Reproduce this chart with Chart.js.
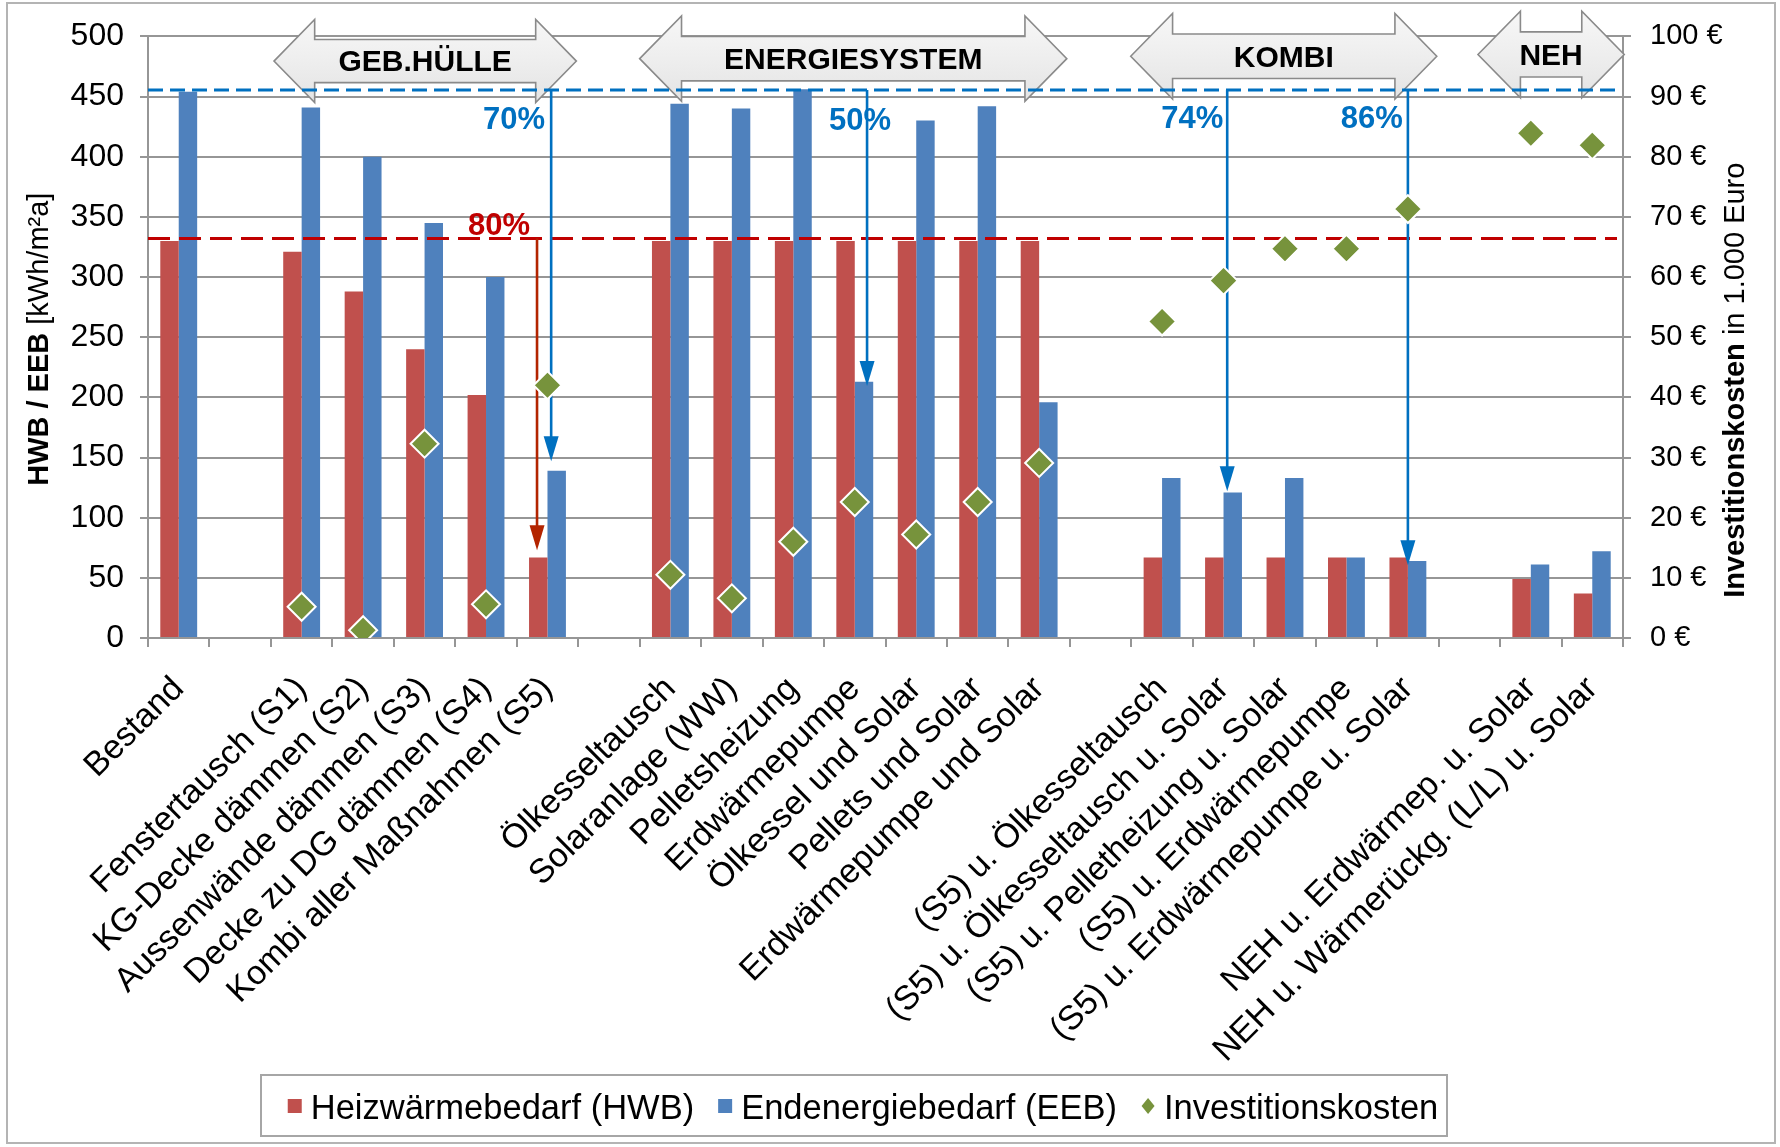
<!DOCTYPE html>
<html lang="de">
<head>
<meta charset="utf-8">
<title>HWB / EEB / Investitionskosten</title>
<script src="https://cdn.jsdelivr.net/npm/chart.js@4.4.1/dist/chart.umd.min.js"></script>
<style>
html,body{margin:0;padding:0;background:#ffffff;}
#wrap{width:1780px;height:1147px;}
canvas{display:block;}
</style>
</head>
<body>
<div id="wrap"><canvas id="chart" width="1780" height="1147"></canvas></div>
<script>
// ---------------- DATA ----------------
const categories = [
  'Bestand', '',
  'Fenstertausch (S1)', 'KG-Decke dämmen (S2)', 'Aussenwände dämmen (S3)', 'Decke zu DG dämmen (S4)', 'Kombi aller Maßnahmen (S5)', '',
  'Ölkesseltausch', 'Solaranlage (WW)', 'Pelletsheizung', 'Erdwärmepumpe', 'Ölkessel und Solar', 'Pellets und Solar', 'Erdwärmepumpe und Solar', '',
  '(S5) u. Ölkesseltausch', '(S5) u. Ölkesseltausch u. Solar', '(S5) u. Pelletheizung u. Solar', '(S5) u. Erdwärmepumpe', '(S5) u. Erdwärmepumpe u. Solar', '',
  'NEH u. Erdwärmep. u. Solar', 'NEH u. Wärmerückg. (L/L) u. Solar'
];
const hwbValues    = [330, null, 321, 288, 240, 202, 67, null, 330, 330, 330, 330, 330, 330, 330, null, 67, 67, 67, 67, 67, null, 49, 37];
const eebValues    = [454, null, 441, 400, 345, 300, 139, null, 444, 440, 456, 213, 430, 442, 196, null, 133, 121, 133, 67, 64, null, 61, 72];
const investValues = [null, null, 5.2, 1.3, 32.3, 5.6, 42, null, 10.5, 6.6, 16, 22.6, 17.2, 22.6, 29.1, null, 52.6, 59.4, 64.7, 64.7, 71.3, null, 83.9, 81.9];

const seriesLabels = ['Heizwärmebedarf (HWB)', 'Endenergiebedarf (EEB)', 'Investitionskosten'];
const leftTickValues  = [0, 50, 100, 150, 200, 250, 300, 350, 400, 450, 500];
const rightTickValues = [0, 10, 20, 30, 40, 50, 60, 70, 80, 90, 100];
const rightTickLabels = ['0 €', '10 €', '20 €', '30 €', '40 €', '50 €', '60 €', '70 €', '80 €', '90 €', '100 €'];
const leftTitle  = [{t: 'HWB / EEB ', bold: true}, {t: '[kWh/m²a]', bold: false}];
const rightTitle = [{t: 'Investitionskosten', bold: true}, {t: ' in 1.000 Euro', bold: false}];

// group banners (category-index span, left-axis values)
const groupNames  = ['GEB.HÜLLE', 'ENERGIESYSTEM', 'KOMBI', 'NEH'];
const groupFrom   = [1.55, 7.50, 15.49, 21.14];
const groupTo     = [6.47, 14.45, 20.47, 23.52];
const groupTop    = [514, 517, 519, 521];
const groupBottom = [445, 446, 448, 449];

// reference lines (left-axis values)
const refLineValues = [455.5, 332];

// reduction arrows
const arrowCats   = [6, 6, 11, 17, 20];
const arrowShift  = [-0.17, 0.06, 0.20, 0.06, 0.0];
const arrowFrom   = [332, 455.5, 455.5, 455.5, 455.5];
const arrowTo     = [73, 147, 209.5, 122, 60.5];
const arrowLabels = ['80%', '70%', '50%', '74%', '86%'];
const arrowLabelValues = [343, 431, 430, 431.5, 431.5];

// ---------------- STYLE ----------------
const FONT = "'Liberation Sans', Arial, sans-serif";
const GRID = '#969696';
const C_HWB = '#C0504D', C_EEB = '#4F81BD', C_INV = '#77933C';
const C_BLUE = '#0070C0', C_RED = '#C00000', C_REDARROW = '#B32400';
const refLineStyles = [{color: C_BLUE, dash: [15, 7]}, {color: C_RED, dash: [22, 9]}];
const arrowStyles = [
  {color: C_REDARROW, text: C_RED, align: 'right', dx: -7},
  {color: C_BLUE, text: C_BLUE, align: 'right', dx: -6},
  {color: C_BLUE, text: C_BLUE, align: 'center', dx: -7},
  {color: C_BLUE, text: C_BLUE, align: 'right', dx: -4},
  {color: C_BLUE, text: C_BLUE, align: 'right', dx: -5}
];

function drawGroups(chart) {
  const {ctx, scales: {x, y}} = chart;
  groupNames.forEach((name, i) => {
    const x1 = x.getPixelForValue(groupFrom[i]);
    const x2 = x.getPixelForValue(groupTo[i]);
    const top = y.getPixelForValue(groupTop[i]);
    const bot = y.getPixelForValue(groupBottom[i]);
    const h = bot - top, cy = (top + bot) / 2;
    const head = h * 0.49, sh = h * 0.26;
    ctx.beginPath();
    ctx.moveTo(x1, cy);
    ctx.lineTo(x1 + head, top);
    ctx.lineTo(x1 + head, cy - sh);
    ctx.lineTo(x2 - head, cy - sh);
    ctx.lineTo(x2 - head, top);
    ctx.lineTo(x2, cy);
    ctx.lineTo(x2 - head, bot);
    ctx.lineTo(x2 - head, cy + sh);
    ctx.lineTo(x1 + head, cy + sh);
    ctx.lineTo(x1 + head, bot);
    ctx.closePath();
    const g = ctx.createLinearGradient(0, top, 0, bot);
    g.addColorStop(0, '#F7F7F7');
    g.addColorStop(0.5, '#EEEEEE');
    g.addColorStop(1, '#E4E4E4');
    ctx.fillStyle = g;
    ctx.fill();
    ctx.strokeStyle = '#8A8A8A';
    ctx.lineWidth = 1.6;
    ctx.stroke();
    ctx.fillStyle = '#000';
    ctx.font = 'bold 30px ' + FONT;
    ctx.textAlign = 'center';
    ctx.textBaseline = 'middle';
    ctx.fillText(name, (x1 + x2) / 2, cy + 2);
  });
}

function drawRefLines(chart) {
  const {ctx, chartArea, scales: {y}} = chart;
  refLineValues.forEach((v, i) => {
    const py = y.getPixelForValue(v);
    ctx.save();
    ctx.strokeStyle = refLineStyles[i].color;
    ctx.lineWidth = 3;
    ctx.setLineDash(refLineStyles[i].dash);
    ctx.beginPath();
    ctx.moveTo(chartArea.left, py);
    ctx.lineTo(chartArea.right - 6, py);
    ctx.stroke();
    ctx.restore();
  });
}

function drawArrows(chart) {
  const {ctx, scales: {x, y}} = chart;
  arrowCats.forEach((c, i) => {
    const st = arrowStyles[i];
    const px = x.getPixelForValue(c + arrowShift[i]);
    const y1 = y.getPixelForValue(arrowFrom[i]);
    const y2 = y.getPixelForValue(arrowTo[i]);
    const headL = 25, headW = 7.5;
    ctx.strokeStyle = st.color;
    ctx.fillStyle = st.color;
    ctx.lineWidth = 2.6;
    ctx.beginPath();
    ctx.moveTo(px, y1);
    ctx.lineTo(px, y2 - headL + 2);
    ctx.stroke();
    ctx.beginPath();
    ctx.moveTo(px - headW, y2 - headL);
    ctx.lineTo(px + headW, y2 - headL);
    ctx.lineTo(px, y2);
    ctx.closePath();
    ctx.fill();
    ctx.font = 'bold 31px ' + FONT;
    ctx.fillStyle = st.text;
    ctx.textAlign = st.align;
    ctx.textBaseline = 'middle';
    ctx.fillText(arrowLabels[i], px + st.dx, y.getPixelForValue(arrowLabelValues[i]) + 1);
  });
}

function drawVerticalTitle(ctx, cx, cy, parts, size) {
  ctx.save();
  ctx.translate(cx, cy);
  ctx.rotate(-Math.PI / 2);
  let total = 0;
  const widths = parts.map(p => {
    ctx.font = (p.bold ? 'bold ' : '') + size + 'px ' + FONT;
    const w = ctx.measureText(p.t).width;
    total += w;
    return w;
  });
  let xx = -total / 2;
  ctx.fillStyle = '#000';
  ctx.textAlign = 'left';
  ctx.textBaseline = 'middle';
  parts.forEach((p, i) => {
    ctx.font = (p.bold ? 'bold ' : '') + size + 'px ' + FONT;
    ctx.fillText(p.t, xx, 0);
    xx += widths[i];
  });
  ctx.restore();
}

function drawLegend(chart) {
  const ctx = chart.ctx;
  const box = {left: 261, top: 1075, right: 1447, bottom: 1136};
  ctx.save();
  ctx.strokeStyle = '#A6A6A6';
  ctx.lineWidth = 2;
  ctx.strokeRect(box.left, box.top, box.right - box.left, box.bottom - box.top);
  ctx.font = '34.5px ' + FONT;
  const items = chart.data.datasets.map(ds => ({
    text: ds.label,
    color: ds.type === 'line' ? ds.pointBackgroundColor : ds.backgroundColor,
    diamond: ds.type === 'line'
  }));
  const marker = 14, gapM = 9, gapI = 24;
  let total = gapI * (items.length - 1);
  items.forEach(it => { it.w = ctx.measureText(it.text).width; total += marker + gapM + it.w; });
  let xp = (box.left + box.right) / 2 + 9 - total / 2;
  const cy = 1106;
  items.forEach(it => {
    ctx.fillStyle = it.color;
    if (it.diamond) {
      const mx = xp + marker / 2;
      ctx.beginPath();
      ctx.moveTo(mx, cy - 8);
      ctx.lineTo(mx + 6.5, cy);
      ctx.lineTo(mx, cy + 8);
      ctx.lineTo(mx - 6.5, cy);
      ctx.closePath();
      ctx.fill();
    } else {
      ctx.fillRect(xp, cy - 7, marker, marker);
    }
    xp += marker + gapM;
    ctx.fillStyle = '#000';
    ctx.textAlign = 'left';
    ctx.textBaseline = 'alphabetic';
    ctx.fillText(it.text, xp, 1119);
    xp += it.w + gapI;
  });
  ctx.restore();
}

const annotationPlugin = {
  id: 'annotations',
  beforeDatasetDraw(chart, args) {
    if (args.index !== 2) return;
    const ctx = chart.ctx;
    ctx.save();
    drawGroups(chart);
    drawRefLines(chart);
    drawArrows(chart);
    ctx.restore();
  },
  afterDraw(chart) {
    const ctx = chart.ctx;
    const ca = chart.chartArea;
    drawVerticalTitle(ctx, 40, (ca.top + ca.bottom) / 2 + 2, leftTitle, 29);
    drawVerticalTitle(ctx, 1736, (ca.top + ca.bottom) / 2 + 43, rightTitle, 29);
    drawLegend(chart);
    ctx.save();
    ctx.strokeStyle = '#B4B4B4';
    ctx.lineWidth = 2;
    ctx.strokeRect(7, 3, 1768, 1140);
    ctx.restore();
  }
};

new Chart(document.getElementById('chart'), {
  type: 'bar',
  data: {
    labels: categories,
    datasets: [
      {label: seriesLabels[0], data: hwbValues, backgroundColor: C_HWB, yAxisID: 'y', order: 1,
       categoryPercentage: 0.6, barPercentage: 1.0},
      {label: seriesLabels[1], data: eebValues, backgroundColor: C_EEB, yAxisID: 'y', order: 1,
       categoryPercentage: 0.6, barPercentage: 1.0},
      {type: 'line', label: seriesLabels[2], data: investValues, yAxisID: 'y2', order: 0,
       showLine: false, pointStyle: 'rectRot', pointRadius: 14, pointHoverRadius: 14,
       backgroundColor: C_INV, borderColor: '#FFFFFF',
       pointBackgroundColor: C_INV, pointBorderColor: '#FFFFFF', pointBorderWidth: 2, pointHoverBorderWidth: 2}
    ]
  },
  options: {
    responsive: false,
    animation: false,
    events: [],
    devicePixelRatio: 1,
    layout: {padding: {left: 0, right: 0, top: 32, bottom: 0}},
    plugins: {legend: {display: false}, tooltip: {enabled: false}},
    scales: {
      x: {
        offset: true,
        grid: {offset: true, drawOnChartArea: false, drawTicks: true, tickLength: 9, color: GRID, lineWidth: 2},
        border: {display: true, color: GRID, width: 2},
        ticks: {autoSkip: false, minRotation: 45, maxRotation: 45, padding: 22, color: '#000',
                font: {family: FONT, size: 34}},
        afterFit(s) { s.height = 1147 - 638; }
      },
      y: {
        position: 'left', min: leftTickValues[0], max: leftTickValues[leftTickValues.length - 1],
        ticks: {stepSize: leftTickValues[1] - leftTickValues[0], padding: 16, color: '#000',
                font: {family: FONT, size: 32}},
        grid: {color: GRID, lineWidth: 2, tickLength: 8},
        border: {display: true, color: GRID, width: 2},
        afterFit(s) { s.width = 148; }
      },
      y2: {
        position: 'right', min: rightTickValues[0], max: rightTickValues[rightTickValues.length - 1],
        ticks: {stepSize: rightTickValues[1] - rightTickValues[0], padding: 19, color: '#000',
                font: {family: FONT, size: 29},
                callback: v => rightTickLabels[rightTickValues.indexOf(v)]},
        grid: {drawOnChartArea: false, color: GRID, lineWidth: 2, tickLength: 8},
        border: {display: true, color: GRID, width: 2},
        afterFit(s) { s.width = 1780 - 1623; }
      }
    }
  },
  plugins: [annotationPlugin]
});
</script>
</body>
</html>
